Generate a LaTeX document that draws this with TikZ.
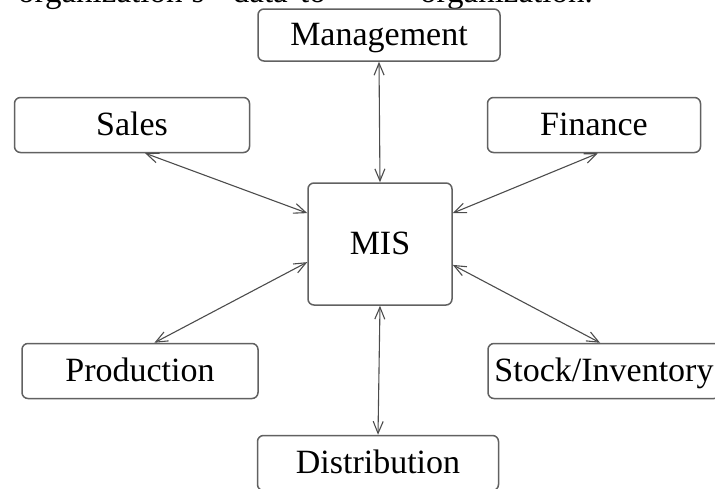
\documentclass[tikz,border=0pt]{standalone}
\usepackage{fontspec}
\setmainfont{Liberation Serif}
\usetikzlibrary{arrows.meta}
\begin{document}
\begin{tikzpicture}[x=1pt,y=-1pt,
  box/.style={draw=black!62, line width=1.5pt, rounded corners=6pt, inner sep=0pt, text height=21pt, text depth=0pt, font=\fontsize{34}{40}\selectfont, fill=white},
  link/.style={draw=black!70, line width=1.1pt, {Straight Barb[length=12pt,width=10pt]}-{Straight Barb[length=12pt,width=10pt]}},
  toptext/.style={font=\fontsize{33}{40}\selectfont, anchor=base west, inner sep=0pt}]
\useasboundingbox (0,0) rectangle (715,488);
\begin{scope}
\clip (0,0) rectangle (715,488);
\node[toptext] (t1) at (18,2.5) {organization's};
\node[toptext] (t2) at (218,2.5) {``data''};
\node[toptext] (t3) at (300,2.5) {to};
\node[toptext] (t4) at (420,2.5) {organization.};
\node[box, minimum width=242pt, minimum height=52pt] (mgmt) at (379,35) {Management};
\node[box, minimum width=235pt, minimum height=55pt] (sales) at (132,125) {Sales};
\node[box, minimum width=213pt, minimum height=55pt] (fin) at (594,125) {Finance};
\node[box, minimum width=144pt, minimum height=122pt] (mis) at (380,244) {MIS};
\node[box, minimum width=236pt, minimum height=55pt] (prod) at (140,371) {Production};
\node[box, minimum width=232pt, minimum height=55pt] (stock) at (604,371) {Stock/Inventory};
\node[box, minimum width=241pt, minimum height=55pt] (dist) at (378,463) {Distribution};
\draw[link] (mgmt.south) -- (mis.north);
\draw[link] (mis.south) -- (dist.north);
\draw[link] (sales.-65) -- (mis.157);
\draw[link] (fin.-82) -- (mis.23);
\draw[link] (prod.63) -- (mis.-166);
\draw[link] (stock.98) -- (mis.-16);
\end{scope}
\end{tikzpicture}
\end{document}
